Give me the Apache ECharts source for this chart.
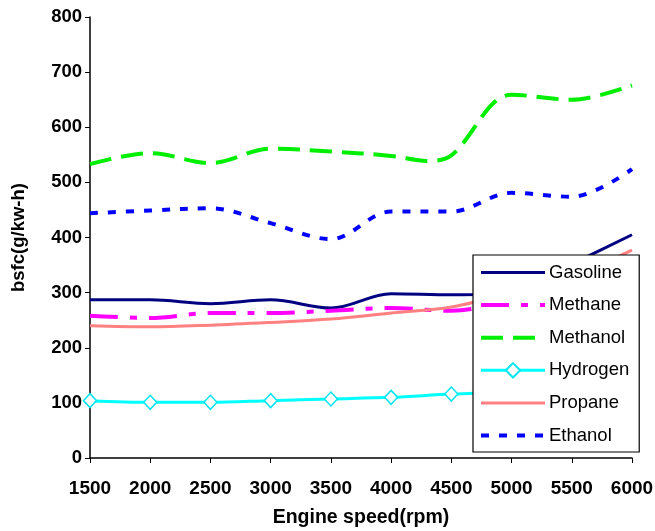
<!DOCTYPE html>
<html>
<head>
<meta charset="utf-8">
<script src="https://cdn.jsdelivr.net/npm/echarts@6/dist/echarts.min.js"></script>
<style>
  html, body { margin: 0; padding: 0; background: #fff; }
  #chart { width: 655px; height: 531px; }
</style>
</head>
<body>
<div id="chart"></div>
<script>
// engine speed (rpm) for each reading
var speeds = [1500, 2000, 2500, 3000, 3500, 4000, 4500, 5000, 5500, 6000];

var gasoline = [287, 287, 280, 287, 272, 298, 296, 300, 352, 405];
var methane = [258, 254, 263, 263, 267, 272, 267, 285, 305, 335];
var hydrogen = [104, 101, 101, 104, 107, 110, 116, 120, 123, 127];
var propane = [240, 238, 241, 246, 252, 263, 274, 300, 330, 377];
var ethanol = [444, 449, 453, 426, 397, 447, 447, 481, 474, 524];

// methanol has an extra dip read between 4000 and 4500
var methanolSpeeds = [1500, 2000, 2500, 3000, 3500, 4000, 4300, 4500, 5000, 5500, 6000];
var methanol = [533, 553, 535, 561, 556, 548, 539, 549, 659, 650, 676];

var xTicks = [1500, 2000, 2500, 3000, 3500, 4000, 4500, 5000, 5500, 6000];
var yTicks = [0, 100, 200, 300, 400, 500, 600, 700, 800];

function pairs(xs, ys) {
    return xs.map(function (x, i) { return [x, ys[i]]; });
}

var font = 'Liberation Sans, Arial, sans-serif';
var noMarker = { opacity: 0 };

var chart = echarts.init(document.getElementById('chart'));
chart.setOption({
    backgroundColor: '#fff',
    animation: false,
    grid: { left: 90, right: 23, top: 17, bottom: 73, outerBoundsMode: 'none' },
    xAxis: {
        type: 'value',
        min: xTicks[0],
        max: xTicks[xTicks.length - 1],
        interval: 500,
        name: 'Engine speed(rpm)',
        nameLocation: 'middle',
        nameGap: 50,
        nameTextStyle: { fontFamily: font, fontWeight: 'bold', fontSize: 19.5, color: '#000' },
        axisLine: { lineStyle: { color: '#000', width: 1.5 } },
        axisTick: { length: 5, lineStyle: { color: '#000' } },
        axisLabel: {
            fontFamily: font, fontWeight: 'bold', fontSize: 19, color: '#000', margin: 21,
            formatter: function (v) { return String(v); }
        },
        splitLine: { show: false }
    },
    yAxis: {
        type: 'value',
        min: yTicks[0],
        max: yTicks[yTicks.length - 1],
        interval: 100,
        name: 'bsfc(g/kw-h)',
        nameLocation: 'middle',
        nameGap: 62,
        nameTextStyle: { fontFamily: font, fontWeight: 'bold', fontSize: 18.5, color: '#000' },
        axisLine: { show: true, lineStyle: { color: '#000', width: 1.5 } },
        axisTick: { show: true, length: 5, lineStyle: { color: '#000' } },
        axisLabel: { fontFamily: font, fontWeight: 'bold', fontSize: 18.5, color: '#000', margin: 8 },
        splitLine: { show: false }
    },
    legend: {
        orient: 'vertical',
        left: 473,
        top: 255,
        padding: [8, 10, 7, 6],
        itemWidth: 64,
        itemHeight: 18,
        itemGap: 13.6,
        backgroundColor: '#fff',
        borderColor: '#000',
        borderWidth: 1.2,
        lineStyle: { width: 'inherit' },
        textStyle: { fontFamily: font, fontSize: 18.5, color: '#000', padding: [0, 0, 0, -1] },
        data: [
            { name: 'Gasoline', itemStyle: noMarker },
            { name: 'Methane', itemStyle: noMarker },
            { name: 'Methanol', itemStyle: noMarker },
            { name: 'Hydrogen' },
            { name: 'Propane', itemStyle: noMarker },
            { name: 'Ethanol', itemStyle: noMarker }
        ]
    },
    series: [
        {
            name: 'Gasoline', type: 'line', smooth: 0.35, symbol: 'none',
            data: pairs(speeds, gasoline),
            lineStyle: { color: '#000080', width: 3 },
            itemStyle: { color: '#000080' }
        },
        {
            name: 'Methane', type: 'line', smooth: 0.35, symbol: 'none',
            data: pairs(speeds, methane),
            lineStyle: { color: '#ff00ff', width: 4, type: [28, 12, 7, 12] },
            itemStyle: { color: '#ff00ff' }
        },
        {
            name: 'Methanol', type: 'line', smooth: 0.35, symbol: 'none',
            data: pairs(methanolSpeeds, methanol),
            lineStyle: { color: '#00ee00', width: 4, type: [22, 10] },
            itemStyle: { color: '#00ee00' }
        },
        {
            name: 'Hydrogen', type: 'line', smooth: 0.35, symbol: 'diamond', symbolSize: [13, 14],
            data: pairs(speeds, hydrogen),
            lineStyle: { color: '#00ffff', width: 3 },
            itemStyle: { color: '#fff', borderColor: '#00e5ee', borderWidth: 1.5 }
        },
        {
            name: 'Propane', type: 'line', smooth: 0.35, symbol: 'none',
            data: pairs(speeds, propane),
            lineStyle: { color: '#ff8080', width: 3 },
            itemStyle: { color: '#ff8080' }
        },
        {
            name: 'Ethanol', type: 'line', smooth: 0.35, symbol: 'none',
            data: pairs(speeds, ethanol),
            lineStyle: { color: '#0000ff', width: 4, type: [8, 10] },
            itemStyle: { color: '#0000ff' }
        }
    ]
});
</script>
</body>
</html>
